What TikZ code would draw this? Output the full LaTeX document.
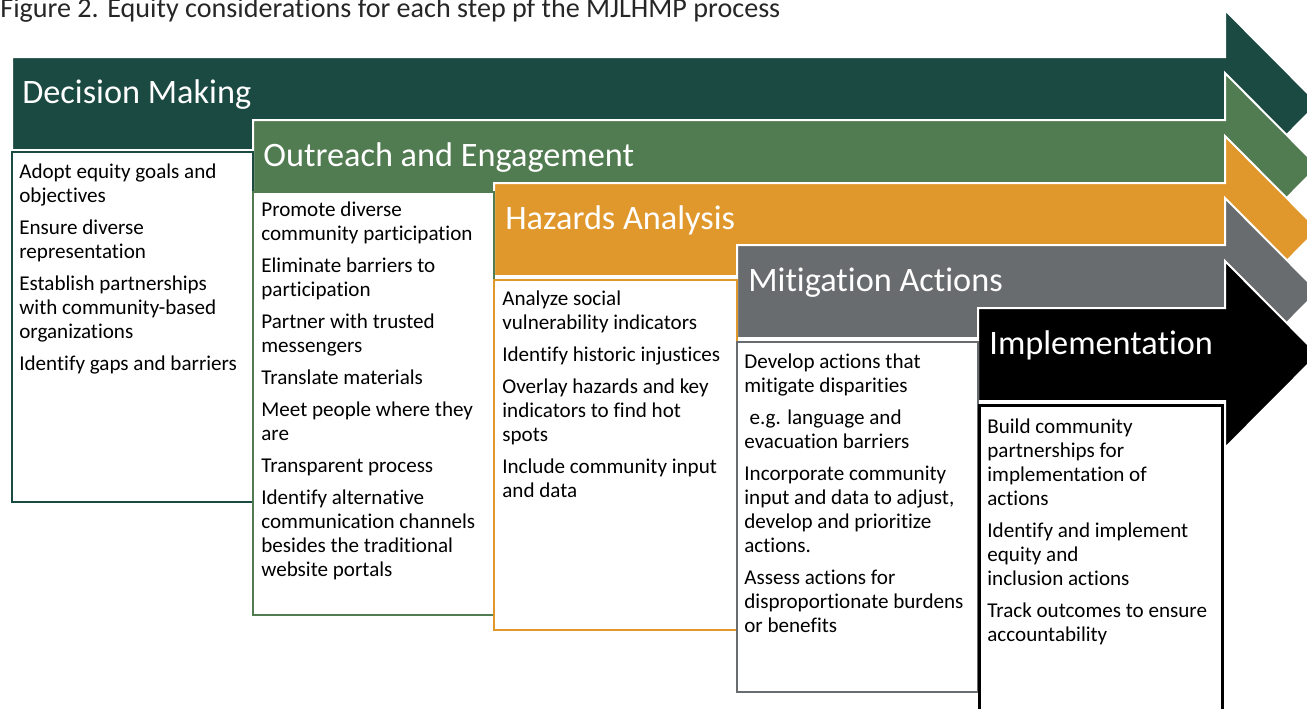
\documentclass[tikz,border=0pt]{standalone}
\usepackage{fontspec}
\setmainfont{Carlito}[Ligatures=NoCommon]

\definecolor{dmgreen}{HTML}{1B4A42}
\definecolor{oegreen}{HTML}{517B50}
\definecolor{haorange}{HTML}{E0982C}
\definecolor{magray}{HTML}{686C6E}

\tikzset{
  steptitle/.style={anchor=base west, inner sep=0pt, text=white, font=\fontsize{19.5}{23}\selectfont},
  steptext/.style={anchor=north west, inner sep=0pt, align=left, font=\fontsize{12}{13.66}\selectfont},
  stepbox/.style={line width=0.4mm, fill=white},
}

\begin{document}
\begin{tikzpicture}[x=0.2mm, y=-0.2mm]
  \def\gap{1.6mm}
  \clip (0,0) rectangle (1307,708);

  % Caption
  \node[anchor=base west, inner sep=0pt, text=black!85, font=\fontsize{16}{18}\selectfont] (caption) at (0,17)
    {Figure 2. Equity considerations for each step pf the MJLHMP process};

  % Step arrows, back to front
  \foreach \bx/\by/\col in {12/57/dmgreen, 253/120/oegreen, 494/183/haorange, 737/245/magray, 978/308/black}
    \filldraw[fill=\col, draw=white, line width=0.4mm]
      (\bx,\by) -- (1225,\by) -- (1225,\by-47) -- (1318,\by+46.5)
      -- (1225,\by+140) -- (1225,\by+93) -- (\bx,\by+93) -- cycle;

  % Boxes under each step
  \draw[stepbox, draw=dmgreen] (12,152) rectangle (253,502);
  \draw[stepbox, draw=oegreen] (253,192) rectangle (494,615);
  \draw[stepbox, draw=haorange] (494,280) rectangle (737,630);
  \draw[stepbox, draw=magray] (737,342) rectangle (978,692);
  \draw[stepbox, draw=black, line width=0.6mm] (979,405) rectangle (1222,730);

  % Step titles
  \node[steptitle] (dmtitle) at (22,103) {Decision Making};
  \node[steptitle] (oetitle) at (263,166) {Outreach and Engagement};
  \node[steptitle] (hatitle) at (505,229) {Hazards Analysis};
  \node[steptitle] (matitle) at (748,291) {Mitigation Actions};
  \node[steptitle] (imtitle) at (989,354) {Implementation};

  % Step contents
  \node[steptext] (dmtext) at (19,163)
    {Adopt equity goals and\\objectives\\[\gap]
     Ensure diverse\\representation\\[\gap]
     Establish partnerships\\with community-based\\organizations\\[\gap]
     Identify gaps and barriers};
  \node[steptext] (oetext) at (261,201)
    {Promote diverse\\community participation\\[\gap]
     Eliminate barriers to\\participation\\[\gap]
     Partner with trusted\\messengers\\[\gap]
     Translate materials\\[\gap]
     Meet people where they\\are\\[\gap]
     Transparent process\\[\gap]
     Identify alternative\\communication channels\\besides the traditional\\website portals};
  \node[steptext] (hatext) at (502,290)
    {Analyze social\\vulnerability indicators\\[\gap]
     Identify historic injustices\\[\gap]
     Overlay hazards and key\\indicators to find hot\\spots\\[\gap]
     Include community input\\and data};
  \node[steptext] (matext) at (744,353)
    {Develop actions that\\mitigate disparities\\[\gap]
     \hspace{0.25em}e.g. language and\\evacuation barriers\\[\gap]
     Incorporate community\\input and data to adjust,\\develop and prioritize\\actions.\\[\gap]
     Assess actions for\\disproportionate burdens\\or benefits};
  \node[steptext] (imtext) at (987,418)
    {Build community\\partnerships for\\implementation of\\actions\\[\gap]
     Identify and implement\\equity and\\inclusion actions\\[\gap]
     Track outcomes to ensure\\accountability};
\end{tikzpicture}
\end{document}
